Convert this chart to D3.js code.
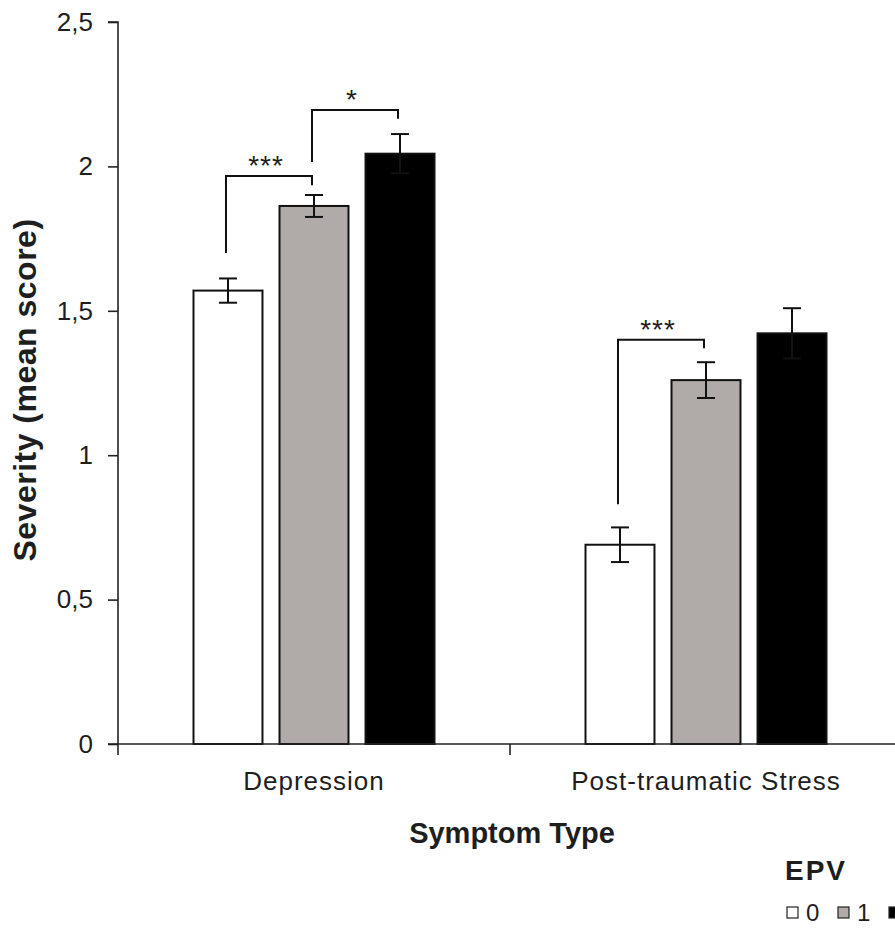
<!DOCTYPE html>
<html>
<head>
<meta charset="utf-8">
<script src="https://cdn.jsdelivr.net/npm/d3@7"></script>
<style>
  body { margin: 0; background: #fff; overflow: hidden; }
  text { font-family: "Liberation Sans", Arial, sans-serif; fill: #1e1e1e; }
</style>
</head>
<body>
<div class="root"></div>
<script>
// values
const categories = ['Depression', 'Post-traumatic Stress'];
const groups = ['0', '1', '2'];
const means = [
  [1.57, 1.863, 2.044],
  [0.69, 1.26, 1.422]
];
const errors = [
  [0.042, 0.038, 0.068],
  [0.06, 0.062, 0.087]
];
const yTicks = [0, 0.5, 1, 1.5, 2, 2.5];
// significance brackets: category, from group, to group, top, left foot, right foot
const brackets = [
  { cat: 0, from: '0', to: '1', top: 1.967, footA: 1.70, footB: 1.935, label: '***' },
  { cat: 0, from: '1', to: '2', top: 2.195, footA: 2.015, footB: 2.165, label: '*' },
  { cat: 1, from: '0', to: '1', top: 1.40, footA: 0.83, footB: 1.37, label: '***' }
];
const fills = ['#ffffff', '#b0aba9', '#000000'];

const width = 895, height = 928;
const svg = d3.select('.root').append('svg')
  .attr('width', width)
  .attr('height', height);

const x0 = d3.scaleBand().domain(categories).range([118, 902]);
const x1 = d3.scaleBand().domain(groups).range([75.5, 316.5]).paddingInner(0.198);
const y = d3.scaleLinear().domain([0, 2.5]).range([744, 22]);
const color = d3.scaleOrdinal().domain(groups).range(fills);

// y axis
const yAxis = svg.append('g')
  .attr('transform', 'translate(118,0)')
  .call(d3.axisLeft(y).tickValues(yTicks).tickSize(10).tickPadding(15)
    .tickFormat(d => String(d).replace('.', ',')));
yAxis.select('.domain').attr('d', `M-10,${y(2.5)}H0V${y(0)}`).attr('stroke', '#222').attr('stroke-width', 1.6);
yAxis.selectAll('.tick line').attr('stroke', '#222').attr('stroke-width', 1.6);
yAxis.selectAll('.tick text')
  .style('font-size', '26px')
  .style('font-family', '"Liberation Sans", Arial, sans-serif')
  .attr('fill', '#1e1e1e');

// bars
const rows = means.map((r, i) => r.map((v, j) => ({ g: groups[j], v: v, e: errors[i][j] })));
const catG = svg.selectAll('.cat')
  .data(categories)
  .enter().append('g')
  .attr('class', 'cat')
  .attr('transform', d => `translate(${x0(d)},0)`);

catG.selectAll('rect')
  .data((d, i) => rows[i])
  .enter().append('rect')
  .attr('x', d => x1(d.g))
  .attr('y', d => y(d.v))
  .attr('width', x1.bandwidth())
  .attr('height', d => y(0) - y(d.v))
  .attr('fill', d => color(d.g))
  .attr('stroke', '#111')
  .attr('stroke-width', 2);

// error bars
const eb = catG.selectAll('.err')
  .data((d, i) => rows[i])
  .enter().append('g')
  .attr('class', 'err')
  .attr('stroke', '#111')
  .attr('stroke-width', 2);
eb.append('line')
  .attr('x1', d => x1(d.g) + x1.bandwidth() / 2)
  .attr('x2', d => x1(d.g) + x1.bandwidth() / 2)
  .attr('y1', d => y(d.v - d.e))
  .attr('y2', d => y(d.v + d.e));
eb.selectAll('.cap')
  .data(d => [d.v - d.e, d.v + d.e].map(t => ({ g: d.g, t: t })))
  .enter().append('line')
  .attr('x1', d => x1(d.g) + x1.bandwidth() / 2 - 9)
  .attr('x2', d => x1(d.g) + x1.bandwidth() / 2 + 9)
  .attr('y1', d => y(d.t))
  .attr('y2', d => y(d.t));

// x axis
svg.append('line')
  .attr('x1', 108).attr('x2', 902)
  .attr('y1', y(0)).attr('y2', y(0))
  .attr('stroke', '#222').attr('stroke-width', 1.6);
svg.selectAll('.xtick')
  .data([118, x0(categories[1])])
  .enter().append('line')
  .attr('x1', d => d).attr('x2', d => d)
  .attr('y1', y(0)).attr('y2', y(0) + 11)
  .attr('stroke', '#222').attr('stroke-width', 1.6);
svg.selectAll('.xlab')
  .data(categories)
  .enter().append('text')
  .attr('x', d => x0(d) + x0.bandwidth() / 2)
  .attr('y', 790)
  .attr('text-anchor', 'middle')
  .style('font-size', '26px')
  .style('letter-spacing', '1px')
  .text(d => d);

// significance brackets
const bx = b => x0(categories[b.cat]);
const cx = (b, g) => bx(b) + x1(g) + x1.bandwidth() / 2 - 2;
svg.selectAll('.bracket')
  .data(brackets)
  .enter().append('path')
  .attr('fill', 'none')
  .attr('stroke', '#111')
  .attr('stroke-width', 2)
  .attr('d', b => `M${cx(b, b.from)},${y(b.footA)}V${y(b.top)}H${cx(b, b.to)}V${y(b.footB)}`);
svg.selectAll('.star')
  .data(brackets)
  .enter().append('text')
  .attr('x', b => (cx(b, b.from) + cx(b, b.to)) / 2 - 3)
  .attr('y', b => y(b.top) - 1)
  .attr('text-anchor', 'middle')
  .style('font-size', '28px')
  .style('letter-spacing', '1px')
  .text(b => b.label);

// axis titles
svg.append('text')
  .attr('transform', `translate(36,390) rotate(-90)`)
  .attr('text-anchor', 'middle')
  .style('font-size', '32px')
  .style('font-weight', 'bold')
  .style('letter-spacing', '0.5px')
  .text('Severity (mean score)');
svg.append('text')
  .attr('x', 512)
  .attr('y', 843)
  .attr('text-anchor', 'middle')
  .style('font-size', '29px')
  .style('font-weight', 'bold')
  .text('Symptom Type');

// legend (the page crops the last entry, as in the source figure)
svg.append('text')
  .attr('x', 785)
  .attr('y', 880)
  .style('font-size', '28px')
  .style('font-weight', 'bold')
  .style('letter-spacing', '2px')
  .text('EPV');
const legX = i => 787 + i * 51;
const leg = svg.selectAll('.leg')
  .data(groups)
  .enter().append('g')
  .attr('transform', (d, i) => `translate(${legX(i)},907)`);
leg.append('rect')
  .attr('width', 11).attr('height', 11)
  .attr('fill', d => color(d))
  .attr('stroke', '#222').attr('stroke-width', 1.2);
leg.filter((d, i) => legX(i) + 19 < width)
  .append('text')
  .attr('x', 19).attr('y', 14)
  .style('font-size', '24px')
  .text(d => d);
</script>
</body>
</html>
